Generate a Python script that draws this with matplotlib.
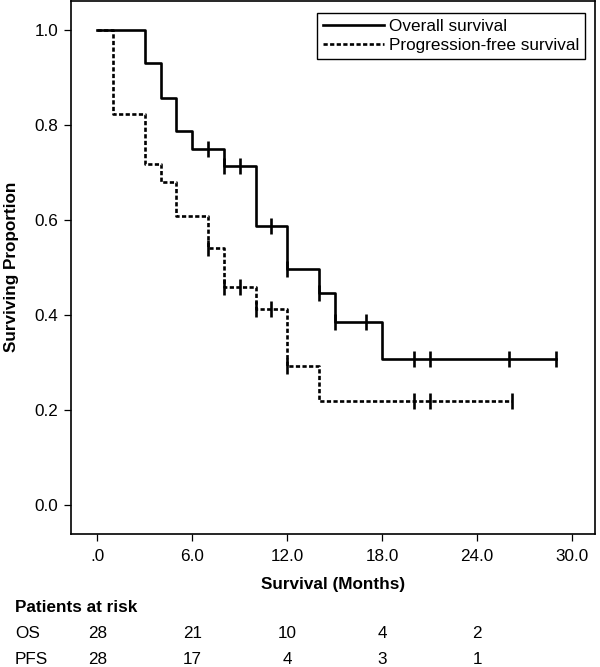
import numpy as np
import matplotlib.pyplot as plt
from matplotlib.transforms import blended_transform_factory

plt.rcParams['font.family'] = ['Liberation Sans', 'DejaVu Sans']

# Kaplan-Meier steps (time in months, surviving proportion after that time)
os_t = [0, 3, 4, 5, 6, 8, 10, 12, 14, 15, 18, 29]
os_s = [1.0, 0.929, 0.857, 0.786, 0.750, 0.714, 0.587, 0.497, 0.446, 0.386, 0.307, 0.307]
os_cens = [7, 8, 9, 11, 12, 14, 15, 17, 20, 21, 26, 29]

pfs_t = [0, 1, 3, 4, 5, 7, 8, 10, 12, 14, 26.2]
pfs_s = [1.0, 0.822, 0.717, 0.679, 0.608, 0.540, 0.458, 0.413, 0.294, 0.220, 0.220]
pfs_cens = [7, 8, 9, 10, 11, 12, 20, 21, 26.2]

xticks = [0, 6, 12, 18, 24, 30]
xtick_labels = ['.0', '6.0', '12.0', '18.0', '24.0', '30.0']
yticks = [0.0, 0.2, 0.4, 0.6, 0.8, 1.0]
ytick_labels = ['0.0', '0.2', '0.4', '0.6', '0.8', '1.0']

risk_t = [0, 6, 12, 18, 24]
os_risk = [28, 21, 10, 4, 2]
pfs_risk = [28, 17, 4, 3, 1]

FS = 12.3


def step_at(t, s, x):
    i = np.searchsorted(t, x, side='right') - 1
    return np.asarray(s)[i]


def main():
    W, H = 600, 667
    fig = plt.figure(figsize=(6, 6.67), dpi=100)
    ax = fig.add_axes([71 / W, 1 - 534 / H, 524 / W, 533 / H])

    dash = (0, (1.6, 0.9))
    l2, = ax.step(pfs_t, pfs_s, where='post', color='k', lw=1.9,
                  linestyle=dash, label='Progression-free survival')
    l1, = ax.step(os_t, os_s, where='post', color='k', lw=1.9,
                  label='Overall survival')
    ax.plot(pfs_cens, step_at(pfs_t, pfs_s, pfs_cens), '|', color='k',
            ms=11, mew=1.9)
    ax.plot(os_cens, step_at(os_t, os_s, os_cens), '|', color='k',
            ms=11, mew=1.9)

    ax.set_xlim(-1.66, 31.44)
    ax.set_ylim(-0.06, 1.06)
    ax.set_xticks(xticks)
    ax.set_xticklabels(xtick_labels)
    ax.set_yticks(yticks)
    ax.set_yticklabels(ytick_labels)
    ax.tick_params(direction='out', length=5, width=0.9, labelsize=FS,
                   pad=4)
    ax.tick_params(axis='x', pad=6)
    for sp in ax.spines.values():
        sp.set_linewidth(1.2)

    leg = ax.legend([l1, l2], ['Overall survival', 'Progression-free survival'],
                    loc='upper right', bbox_to_anchor=(514 / 524, (534 - 12.7) / 533),
                    borderaxespad=0, fontsize=FS, frameon=True, fancybox=False,
                    edgecolor='k', framealpha=1, handlelength=3.6,
                    handletextpad=0.25, borderpad=0.35, labelspacing=0.28)
    leg.get_frame().set_linewidth(1.0)

    fig.text(12 / W, 1 - 267 / H, 'Surviving Proportion', rotation=90,
             ha='center', va='center', fontsize=FS, fontweight='bold')
    fig.text(333 / W, 1 - 585 / H, 'Survival (Months)', ha='center',
             va='center', fontsize=FS, fontweight='bold')
    fig.text(15 / W, 1 - 608 / H, 'Patients at risk', ha='left',
             va='center', fontsize=FS, fontweight='bold')

    tr = blended_transform_factory(ax.transData, fig.transFigure)
    fig.text(15 / W, 1 - 634 / H, 'OS', ha='left', va='center', fontsize=FS)
    fig.text(15 / W, 1 - 659 / H, 'PFS', ha='left', va='center', fontsize=FS)
    for x, a, b in zip(risk_t, os_risk, pfs_risk):
        ax.text(x, 1 - 634 / H, str(a), transform=tr, ha='center',
                va='center', fontsize=FS)
        ax.text(x, 1 - 659 / H, str(b), transform=tr, ha='center',
                va='center', fontsize=FS)

    plt.savefig('out.png', dpi=100)


if __name__ == "__main__":
    main()
